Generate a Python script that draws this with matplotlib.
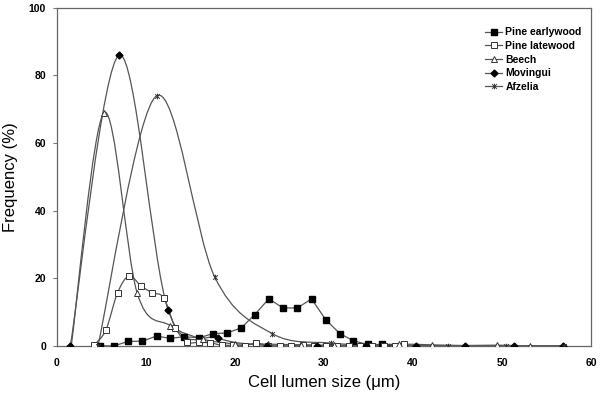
import numpy as np
import matplotlib
matplotlib.use("Agg")
import matplotlib.pyplot as plt
from matplotlib.path import Path
from matplotlib.patches import PathPatch
from matplotlib.lines import Line2D

plt.rcParams['font.family'] = ['Liberation Sans', 'DejaVu Sans']

# Pine earlywood
x_early = [4.8, 6.4, 8.0, 9.6, 11.2, 12.7, 14.3, 16.0, 17.5, 19.1, 20.7, 22.2,
           23.8, 25.4, 27.0, 28.6, 30.2, 31.8, 33.3, 34.9, 36.5]
y_early = [0, 0, 1.3, 1.4, 2.9, 2.2, 2.7, 2.4, 3.6, 3.8, 5.3, 9.2,
           13.9, 11.2, 11.2, 13.9, 7.7, 3.6, 1.5, 0.4, 0.4]

# Pine latewood
x_late = [4.2, 5.5, 6.8, 8.1, 9.4, 10.7, 12.0, 13.3, 14.6, 15.9, 17.2, 18.5,
          19.8, 21.1, 22.4, 23.7, 25.0, 26.3, 27.6, 28.9, 30.2, 31.5, 32.8,
          34.1, 35.4, 36.7, 38.0, 39.0]
y_late = [0.3, 4.7, 15.7, 20.7, 17.8, 15.7, 14.2, 5.3, 1.2, 1.0, 0.9, 0.2,
          0.2, 0.1, 0.8, 0.1, 0, 0, 0.3, 0, 0, 0, 0, 0, 0, 0, 0, 0.5]

# Beech
x_beech = [1.6, 5.3, 9.0, 12.7, 16.4, 20.0, 23.7, 27.4, 31.1, 34.8, 38.4,
           42.1, 45.8, 49.4, 53.1, 56.8]
y_beech = [0, 69, 15.7, 6.0, 2.0, 0.6, 0.5, 0.3, 0.2, 0.1, 0.5, 0.3, 0.1,
           0.2, 0, 0]

# Movingui
x_mov = [1.5, 7.0, 12.5, 18.1, 23.6, 29.2, 34.7, 40.3, 45.8, 51.4, 56.9]
y_mov = [0, 86, 10.5, 2.3, 0.1, 0, 0, 0, 0, 0, 0]

# Afzelia
x_afz = [4.6, 11.2, 17.7, 24.2, 30.8, 37.3, 43.9, 50.4, 57.0]
y_afz = [0, 74, 20.5, 3.6, 0.8, 0.1, 0, 0, 0]

linha = '#555555'

# marcador estrela do Excel (x com traço vertical)
estrela = Path([(-1, -1), (1, 1), (-1, 1), (1, -1), (0, -1.2), (0, 1.2)],
               [Path.MOVETO, Path.LINETO, Path.MOVETO, Path.LINETO,
                Path.MOVETO, Path.LINETO])


def curva_suave(ax, x, y):
    # curva tipo Excel (Catmull-Rom em Bezier)
    x = np.asarray(x, float)
    y = np.asarray(y, float)
    pts = np.column_stack([x, y])
    verts = [pts[0]]
    codes = [Path.MOVETO]
    n = len(pts)
    for i in range(n - 1):
        p0 = pts[i - 1] if i > 0 else pts[i]
        p1 = pts[i]
        p2 = pts[i + 1]
        p3 = pts[i + 2] if i + 2 < n else pts[i + 1]
        c1 = p1 + (p2 - p0) / 6.0
        c2 = p2 - (p3 - p1) / 6.0
        verts += [c1, c2, p2]
        codes += [Path.CURVE4] * 3
    ax.add_patch(PathPatch(Path(verts, codes), facecolor='none',
                           edgecolor=linha, lw=0.9, transform=ax.transData))


fig = plt.figure(figsize=(6.0, 3.93), dpi=100)
ax = fig.add_axes([0.095, 0.12, 0.89, 0.86])

ax.plot(x_early, y_early, color=linha, lw=0.9, marker='s', ms=4.5,
        mfc='black', mec='black', zorder=3)

curva_suave(ax, x_late, y_late)
ax.plot(x_late, y_late, ls='none', marker='s', ms=4.5, mfc='white',
        mec='#333333', mew=0.7, zorder=3)

curva_suave(ax, x_beech, y_beech)
ax.plot(x_beech, y_beech, ls='none', marker='^', ms=5, mfc='white',
        mec='#333333', mew=0.7, zorder=3)

curva_suave(ax, x_mov, y_mov)
ax.plot(x_mov, y_mov, ls='none', marker='D', ms=3.5, mfc='black',
        mec='black', zorder=3)

curva_suave(ax, x_afz, y_afz)
ax.plot(x_afz, y_afz, ls='none', marker=estrela, ms=4, mfc='none',
        mec='#333333', mew=0.7, zorder=3)

ax.set_xlim(0, 60)
ax.set_ylim(0, 100)
ax.set_xticks(range(0, 61, 10))
ax.set_yticks(range(0, 101, 20))
ax.tick_params(axis='x', length=0, pad=9, labelsize=7.5)
ax.tick_params(axis='y', length=3, width=0.8, color='#777777', pad=5, labelsize=7.5)
for lab in ax.get_xticklabels() + ax.get_yticklabels():
    lab.set_fontweight('bold')
for s in ax.spines.values():
    s.set_color('#666666')
    s.set_linewidth(0.9)

ax.set_xlabel('Cell lumen size (μm)', fontsize=12, labelpad=5)
ax.set_ylabel('Frequency (%)', fontsize=12, labelpad=8)

handles = [
    Line2D([], [], color=linha, lw=0.9, marker='s', ms=4.5, mfc='black', mec='black'),
    Line2D([], [], color=linha, lw=0.9, marker='s', ms=4.5, mfc='white', mec='#333333', mew=0.7),
    Line2D([], [], color=linha, lw=0.9, marker='^', ms=5, mfc='white', mec='#333333', mew=0.7),
    Line2D([], [], color=linha, lw=0.9, marker='D', ms=3.5, mfc='black', mec='black'),
    Line2D([], [], color=linha, lw=0.9, marker=estrela, ms=4, mfc='none', mec='#333333', mew=0.7),
]
nomes = ['Pine earlywood', 'Pine latewood', 'Beech', 'Movingui', 'Afzelia']
ax.legend(handles, nomes, loc='upper right', bbox_to_anchor=(1.0, 0.97),
          frameon=False, handlelength=1.6, handletextpad=0.3,
          labelspacing=0.35, prop={'size': 7.5, 'weight': 'bold'})

fig.savefig('out.png', dpi=100)
